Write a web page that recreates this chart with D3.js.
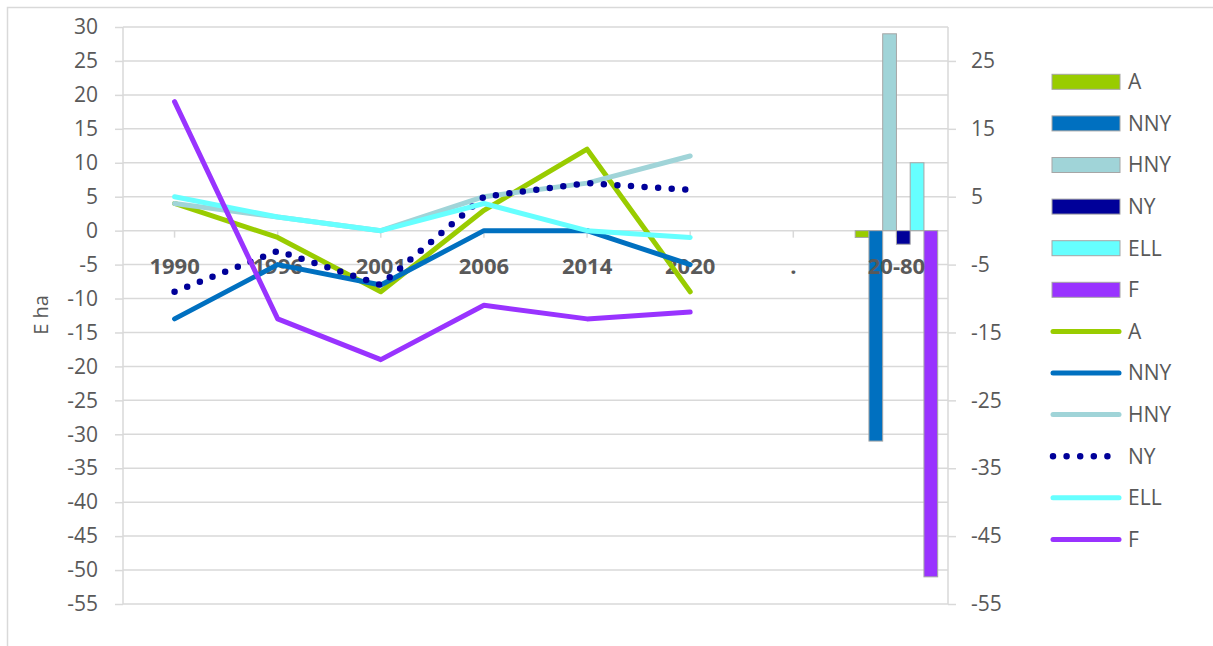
<!DOCTYPE html>
<html>
<head>
<meta charset="utf-8">
<script src="https://cdn.jsdelivr.net/npm/d3@7"></script>
<style>
  body { margin: 0; background: #fff; }
  svg text { font-family: "Open Sans", sans-serif; fill: #595959; }
  .axis path { display: none; }
  .axis line { stroke: #d9d9d9; stroke-width: 1.5; }
</style>
</head>
<body>
<div id="chart"></div>
<script>
// categories on the x axis
const categories = ["1990", "1996", "2001", "2006", "2014", "2020", ".", "20-80"]
const lineYears = ["1990", "1996", "2001", "2006", "2014", "2020"]

const seriesNames = ["A", "NNY", "HNY", "NY", "ELL", "F"]
const seriesColors = ["#99cc00", "#0070c0", "#a0d4d8", "#000099", "#66ffff", "#9933ff"]

// line values (left axis)
const valuesA   = [4, -1, -9, 3, 12, -9]
const valuesNNY = [-13, -5, -8, 0, 0, -5]
const valuesHNY = [4, 2, 0, 5, 7, 11]
const valuesNY  = [-9, -3, -8, 5, 7, 6]
const valuesELL = [5, 2, 0, 4, 0, -1]
const valuesF   = [19, -13, -19, -11, -13, -12]

// bar values for "20-80" (right axis)
const barValues = [-1, -31, 29, -2, 10, -51]

const leftTicks = d3.range(-55, 31, 5)
const rightTicks = [25, 15, 5, -5, -15, -25, -35, -45, -55]

const lineValues = [valuesA, valuesNNY, valuesHNY, valuesNY, valuesELL, valuesF]

const W = 1213, H = 646
const plot = {left: 123, right: 948, top: 27, bottom: 604}

const svg = d3.select("#chart").append("svg")
  .attr("width", W)
  .attr("height", H)

// outer border
svg.append("rect")
  .attr("x", 7.5).attr("y", 7.5)
  .attr("width", W + 20).attr("height", H + 20)
  .attr("fill", "none")
  .attr("stroke", "#d9d9d9")
  .attr("stroke-width", 1.5)

const x = d3.scaleBand()
  .domain(categories)
  .range([plot.left, plot.right])

const y = d3.scaleLinear()
  .domain([-55, 30])
  .range([plot.bottom, plot.top])

const xBar = d3.scaleBand()
  .domain(seriesNames)
  .range([0, x.bandwidth()])
  .paddingOuter(0.75)

// plain hyphen for negatives, like the original
const fmt = d => String(d)

// gridlines
svg.append("g")
  .selectAll("line")
  .data(leftTicks)
  .join("line")
  .attr("x1", plot.left)
  .attr("x2", plot.right)
  .attr("y1", d => y(d))
  .attr("y2", d => y(d))
  .attr("stroke", "#d9d9d9")
  .attr("stroke-width", 1.5)

// vertical axis lines
svg.append("line")
  .attr("x1", plot.left).attr("x2", plot.left)
  .attr("y1", y(30)).attr("y2", y(-55))
  .attr("stroke", "#d9d9d9").attr("stroke-width", 1.5)
svg.append("line")
  .attr("x1", plot.right).attr("x2", plot.right)
  .attr("y1", y(30)).attr("y2", y(-55))
  .attr("stroke", "#d9d9d9").attr("stroke-width", 1.5)

// left axis
svg.append("g")
  .attr("class", "axis")
  .attr("transform", `translate(${plot.left}, 0)`)
  .call(d3.axisLeft(y).tickValues(leftTicks).tickFormat(fmt).tickSize(8).tickPadding(17))
  .selectAll("text")
  .style("font-size", "21px")

// right axis
svg.append("g")
  .attr("class", "axis")
  .attr("transform", `translate(${plot.right}, 0)`)
  .call(d3.axisRight(y).tickValues(rightTicks).tickFormat(fmt).tickSize(8).tickPadding(15))
  .selectAll("text")
  .style("font-size", "21px")

// category ticks on the zero line
svg.append("g")
  .attr("class", "axis")
  .attr("transform", `translate(0, ${y(0)})`)
  .call(d3.axisBottom(x).tickSize(7).tickFormat(""))

// y axis title
svg.append("text")
  .attr("transform", `translate(48, ${315}) rotate(-90)`)
  .attr("text-anchor", "middle")
  .style("font-size", "20px")
  .text("E ha")

// bars (secondary axis, same scale)
svg.append("g")
  .selectAll("rect")
  .data(barValues)
  .join("rect")
  .attr("x", (d, i) => x("20-80") + xBar(seriesNames[i]))
  .attr("width", xBar.bandwidth())
  .attr("y", d => y(Math.max(0, d)))
  .attr("height", d => Math.abs(y(d) - y(0)))
  .attr("fill", (d, i) => seriesColors[i])
  .attr("stroke", "#a6a6a6")
  .attr("stroke-width", 1)

// category labels (drawn over the bars)
svg.append("g")
  .selectAll("text")
  .data(categories)
  .join("text")
  .attr("x", d => x(d) + x.bandwidth() / 2)
  .attr("y", y(0) + 43)
  .attr("text-anchor", "middle")
  .style("font-size", "22px")
  .style("font-weight", "bold")
  .text(d => d)

// lines
const line = d3.line()
  .x((d, i) => x(lineYears[i]) + x.bandwidth() / 2)
  .y(d => y(d))

lineValues.forEach((vals, k) => {
  const path = svg.append("path")
    .datum(vals)
    .attr("d", line)
    .attr("fill", "none")
    .attr("stroke", seriesColors[k])
    .attr("stroke-width", 5)
    .attr("stroke-linejoin", "round")
    .attr("stroke-linecap", "round")
  if (seriesNames[k] === "NY") {
    path.attr("stroke-width", 6.5)
      .attr("stroke-dasharray", "0, 13.6")
  }
})

// legend
const legX = 1052, legText = 1128, legTop = 81.8, legStep = 41.6

const legBars = svg.append("g")
seriesNames.forEach((name, i) => {
  const cy = legTop + i * legStep
  legBars.append("rect")
    .attr("x", legX).attr("y", cy - 7.5)
    .attr("width", 68).attr("height", 15)
    .attr("fill", seriesColors[i])
    .attr("stroke", "#a6a6a6")
    .attr("stroke-width", 1)
  legBars.append("text")
    .attr("x", legText).attr("y", cy)
    .attr("dy", "0.35em")
    .style("font-size", "21px")
    .text(name)
})

seriesNames.forEach((name, i) => {
  const cy = legTop + (i + 6) * legStep
  const l = legBars.append("line")
    .attr("x1", legX + 1).attr("x2", legX + 67)
    .attr("y1", cy).attr("y2", cy)
    .attr("stroke", seriesColors[i])
    .attr("stroke-width", 5)
    .attr("stroke-linecap", "round")
  if (name === "NY") {
    l.attr("stroke-width", 6.5).attr("stroke-dasharray", "0, 13.6")
  }
  legBars.append("text")
    .attr("x", legText).attr("y", cy)
    .attr("dy", "0.35em")
    .style("font-size", "21px")
    .text(name)
})
</script>
</body>
</html>
